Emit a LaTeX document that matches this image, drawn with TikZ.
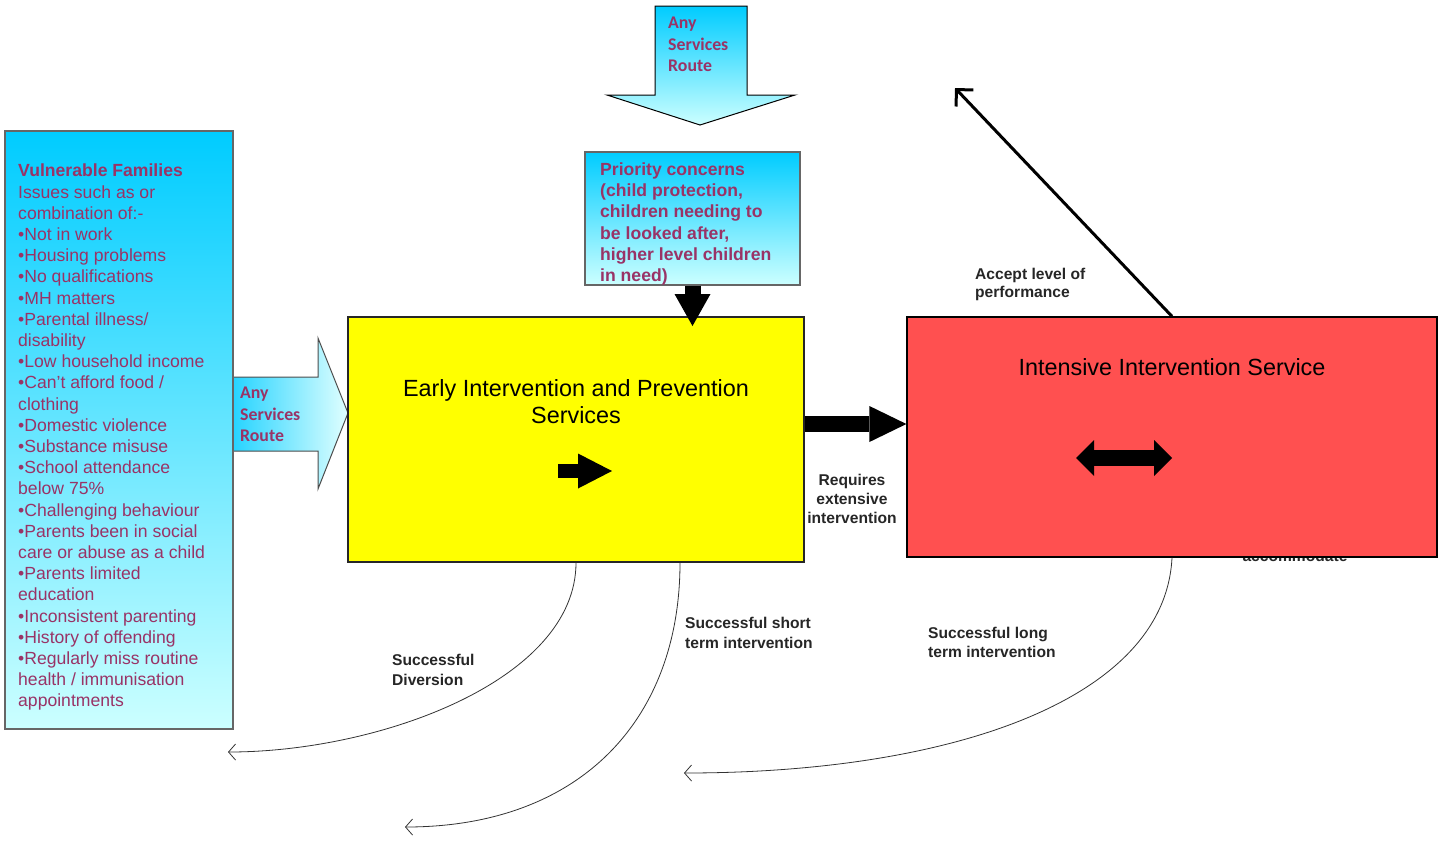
\documentclass[tikz,border=0pt]{standalone}
\usepackage{fontspec}
\setmainfont{Liberation Sans}
\newfontfamily\calibfont{Carlito}
\usetikzlibrary{arrows.meta}
\definecolor{plum}{HTML}{993366}
\definecolor{skytop}{HTML}{00CCFF}
\definecolor{skybot}{HTML}{CCFFFF}
\definecolor{eipyellow}{HTML}{FFFF00}
\definecolor{iisred}{HTML}{FF5050}
\tikzset{
  service/.style={draw=black!85, line width=1.2pt, inner sep=0pt},
  skybox/.style={service, draw=black!60, top color=skytop, bottom color=skybot},
  famtext/.style={font=\fontsize{17.6}{21.2}\selectfont, text=plum, align=left, inner sep=0pt, anchor=north west},
  routetext/.style={font=\calibfont\bfseries\fontsize{17.8}{21.5}\selectfont, text=plum, align=left, inner sep=0pt, anchor=north west},
  bigtext/.style={font=\fontsize{23.4}{27}\selectfont, align=center, inner sep=0pt, anchor=north},
  lbl/.style={font=\bfseries\fontsize{15.6}{19}\selectfont, text=black!85, align=left, inner sep=0pt, anchor=north west},
  fatarrow/.style={line width=16pt, -{Triangle[length=37pt,width=36pt,line width=0pt]}},
  exitarrow/.style={line width=0.8pt, draw=black!80, -{Straight Barb[length=7pt,width=16pt]}},
  perfarrow/.style={line width=3pt, -{Straight Barb[length=12pt,width=24pt]}}
}
\begin{document}
\begin{tikzpicture}[x=1pt,y=-1pt]
  \useasboundingbox (0,0) rectangle (1439,841);

  % routes in
  \shadedraw[top color=skytop, bottom color=skybot, draw=black, line width=1pt]
    (655,6) -- (747,6) -- (747,95) -- (795,95) -- (700,125) -- (607,95) -- (655,95) -- cycle;
  \node[routetext] (topRoute) at (668,17) {Any\\Services\\Route};
  \shadedraw[left color=skytop!85, right color=skybot!60!white, draw=black!70, line width=1pt]
    (233,377) -- (318,377) -- (318,338) -- (348,413) -- (318,489) -- (318,451) -- (233,451) -- cycle;
  \node[routetext] (sideRoute) at (240,387) {Any\\Services\\Route};

  % boxes
  \node[skybox, minimum width=228pt, minimum height=598pt] (fam) at (119,430) {};
  \node[skybox, minimum width=215pt, minimum height=133pt] (pri) at (692.5,218.5) {};
  \node[service, fill=eipyellow, minimum width=456pt, minimum height=245pt] (eip) at (576,439.5) {};
  \node[lbl, anchor=base] (acc) at (1295,561) {accommodate};
  \node[service, draw=black, fill=iisred, minimum width=530pt, minimum height=240pt] (iis) at (1172,437) {};

  \node[famtext] (famText) at (18,164) {\textbf{Vulnerable Families}\\Issues such as or\\combination of:-\\
    •Not in work\\•Housing problems\\•No qualifications\\•MH matters\\•Parental illness/\\disability\\
    •Low household income\\•Can’t afford food /\\clothing\\•Domestic violence\\•Substance misuse\\
    •School attendance\\below 75\%\\•Challenging behaviour\\•Parents been in social\\care or abuse as a child\\
    •Parents limited\\education\\•Inconsistent parenting\\•History of offending\\•Regularly miss routine\\
    health / immunisation\\appointments};
  \node[famtext, font=\bfseries\fontsize{17.6}{21.2}\selectfont] (priText) at (600,162.5)
    {Priority concerns\\(child protection,\\children needing to\\be looked after,\\higher level children\\in need)};
  \node[bigtext] (eipText) at (576,379) {Early Intervention and Prevention\\Services};
  \node[bigtext] (iisText) at (1172,358) {Intensive Intervention Service};

  % arrows inside the boxes
  \coordinate (eipA) at (558,471);
  \coordinate (eipB) at (612,471);
  \draw[line width=14pt, -{Triangle[length=34pt,width=35pt,line width=0pt]}] (eipA) -- (eipB);
  \coordinate (iisA) at (1076,458);
  \coordinate (iisB) at (1172,458);
  \draw[line width=16pt, {Triangle[length=18pt,width=36pt,line width=0pt]}-{Triangle[length=18pt,width=36pt,line width=0pt]}] (iisA) -- (iisB);

  % connectors
  \coordinate (priTip) at (692.5,326);
  \draw[fatarrow, -{Triangle[length=32pt,width=36pt,line width=0pt]}] (pri.south) -- (priTip);
  \draw[fatarrow] ([yshift=15.5pt]eip.east) -- ([yshift=13pt]iis.west);
  \coordinate (perfEnd) at (955,88);
  \draw[perfarrow] (iis.north) -- (perfEnd);

  \coordinate (divEnd) at (228,752);
  \coordinate (shortEnd) at (405,827);
  \coordinate (longEnd) at (684,773);
  \draw[exitarrow] (eip.south) .. controls (576,680) and (380,752) .. (divEnd);
  \draw[exitarrow] ([xshift=104pt]eip.south) .. controls (680,720) and (580,827) .. (shortEnd);
  \draw[exitarrow] (iis.south) .. controls (1165,700) and (950,773) .. (longEnd);

  % labels
  \node[lbl, anchor=north, align=center] (needs) at (852,474) {Requires\\extensive\\intervention};
  \node[lbl, font=\bfseries\fontsize{15.6}{18}\selectfont] (accept) at (975,268) {Accept level of\\performance};
  \node[lbl, font=\bfseries\fontsize{15.6}{20}\selectfont] (diversion) at (392,654) {Successful\\Diversion};
  \node[lbl, font=\bfseries\fontsize{15.6}{20}\selectfont] (shortTerm) at (685,617) {Successful short\\term intervention};
  \node[lbl] (longTerm) at (928,627) {Successful long\\term intervention};
\end{tikzpicture}
\end{document}
